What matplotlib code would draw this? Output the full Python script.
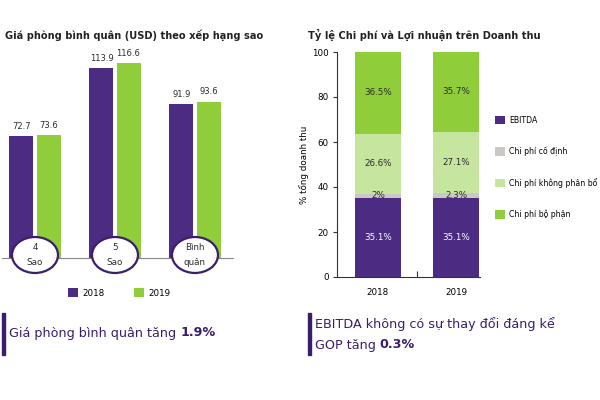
import numpy as np
import matplotlib.pyplot as plt
from matplotlib.patches import Ellipse, Rectangle

# ---- data ----
groups = ['4\nSao', '5\nSao', 'Bình\nquân']
price_2018 = [72.7, 113.9, 91.9]
price_2019 = [73.6, 116.6, 93.6]

years = ['2018', '2019']
ebitda = [35.1, 35.1]
fixed_cost = [2.0, 2.3]
unalloc_cost = [26.6, 27.1]
dept_cost = [36.5, 35.7]
stack_labels = ['EBITDA', 'Chi phí cố định', 'Chi phí không phân bổ', 'Chi phí bộ phận']

purple = '#4B2C82'
green = '#8FCD3A'
light_green = '#C6E59E'
grey = '#CBC7C4'
dark = '#3A1D6B'
txt = '#2b2b2b'

plt.rcParams['font.family'] = ['DejaVu Sans']

fig = plt.figure(figsize=(6, 4), dpi=100)
W, H = 600.0, 400.0

# ---- left chart ----
ax1 = fig.add_axes([2 / W, (H - 258) / H, 231 / W, 209 / H])
x = np.arange(len(groups))
off = 0.169
bw = 0.30
b1 = ax1.bar(x - off, price_2018, bw, color=purple, label='2018')
b2 = ax1.bar(x + off, price_2019, bw, color=green, label='2019')
for bars, vals in [(b1, price_2018), (b2, price_2019)]:
    for r, v in zip(bars, vals):
        ax1.text(r.get_x() + r.get_width() / 2, v + 3, f'{v}', ha='center', va='bottom',
                 fontsize=6, color=txt)
ax1.set_xlim(-0.4125, 2.475)
ax1.set_ylim(0, 125)
for s in ['top', 'right', 'left']:
    ax1.spines[s].set_visible(False)
ax1.spines['bottom'].set_color('#888888')
ax1.spines['bottom'].set_linewidth(0.8)
ax1.set_xticks([])
ax1.set_yticks([])
for xi, g in zip(x, groups):
    e = Ellipse((xi, 1.8), 0.575, 21.5, facecolor='white', edgecolor=dark, lw=1.6,
                clip_on=False, zorder=5)
    ax1.add_patch(e)
    ax1.text(xi, 1.8, g, ha='center', va='center', fontsize=6.3, color=txt,
             linespacing=1.8, zorder=6)

fig.legend(handles=[b1, b2], loc='center', bbox_to_anchor=(119 / W, 1 - 293 / H),
           ncol=2, frameon=False, fontsize=6.3, handlelength=1.15, handleheight=1.15,
           handletextpad=0.5, columnspacing=3.4)

fig.text(5 / W, 1 - 35 / H, 'Giá phòng bình quân (USD) theo xếp hạng sao',
         fontsize=7.1, fontweight='bold', color='#222222', va='center', ha='left')

# ---- right chart ----
ax2 = fig.add_axes([337 / W, (H - 277) / H, 143 / W, 225 / H])
xr = np.arange(len(years))
w2 = 0.586
bottoms = np.zeros(len(years))
colors = [purple, grey, light_green, green]
series = [ebitda, fixed_cost, unalloc_cost, dept_cost]
handles = []
for vals, c, lab in zip(series, colors, stack_labels):
    bars = ax2.bar(xr, vals, w2, bottom=bottoms, color=c, label=lab)
    handles.append(bars)
    for xi, v, b0 in zip(xr, vals, bottoms):
        tc = 'white' if c == purple else txt
        ax2.text(xi, b0 + v / 2, f'{v:g}%', ha='center', va='center', fontsize=6.3,
                 color=tc)
    bottoms = bottoms + np.array(vals)
ax2.set_xlim(-0.522, 1.3)
ax2.set_ylim(0, 100)
ax2.set_yticks([0, 20, 40, 60, 80, 100])
ax2.tick_params(axis='y', labelsize=6.3, length=3, width=0.8, color='#333333', pad=3)
ax2.set_xticks(xr)
ax2.set_xticklabels(years)
ax2.tick_params(axis='x', labelsize=6.3, length=0, pad=8)
ax2.set_xticks([0.5], minor=True)
ax2.tick_params(axis='x', which='minor', length=4, width=0.8, color='#333333',
                direction='in')
for s in ['top', 'right']:
    ax2.spines[s].set_visible(False)
for s in ['left', 'bottom']:
    ax2.spines[s].set_color('#333333')
    ax2.spines[s].set_linewidth(0.8)
ax2.set_ylabel('% tổng doanh thu', fontsize=6.3, labelpad=2)

fig.legend(handles=handles, loc='upper left', bbox_to_anchor=(491 / W, 1 - 112 / H),
           frameon=False, fontsize=5.6, handlelength=1.25, handleheight=1.25,
           handletextpad=0.6, labelspacing=2.8, borderpad=0)

fig.text(308 / W, 1 - 35 / H, 'Tỷ lệ Chi phí và Lợi nhuận trên Doanh thu',
         fontsize=7.1, fontweight='bold', color='#222222', va='center', ha='left')

# ---- callouts ----
fig.add_artist(Rectangle((2 / W, 1 - 355 / H), 3 / W, 42 / H, color=dark,
                         transform=fig.transFigure))
t1 = fig.text(9 / W, 1 - 333 / H, 'Giá phòng bình quân tăng ', fontsize=9.2,
              color=dark, va='center', ha='left')
fig.add_artist(plt.Annotation('1.9%', xy=(1, 0.5), xycoords=t1, va='center', ha='left',
                              fontsize=9.2, fontweight='bold', color=dark))

fig.add_artist(Rectangle((308 / W, 1 - 355 / H), 3 / W, 42 / H, color=dark,
                         transform=fig.transFigure))
fig.text(315 / W, 1 - 324 / H, 'EBITDA không có sự thay đổi đáng kể', fontsize=9.2,
         color=dark, va='center', ha='left')
t2 = fig.text(315 / W, 1 - 345 / H, 'GOP tăng ', fontsize=9.2,
              color=dark, va='center', ha='left')
fig.add_artist(plt.Annotation('0.3%', xy=(1, 0.5), xycoords=t2, va='center', ha='left',
                              fontsize=9.2, fontweight='bold', color=dark))

fig.savefig('out.png', dpi=100, facecolor='white')
